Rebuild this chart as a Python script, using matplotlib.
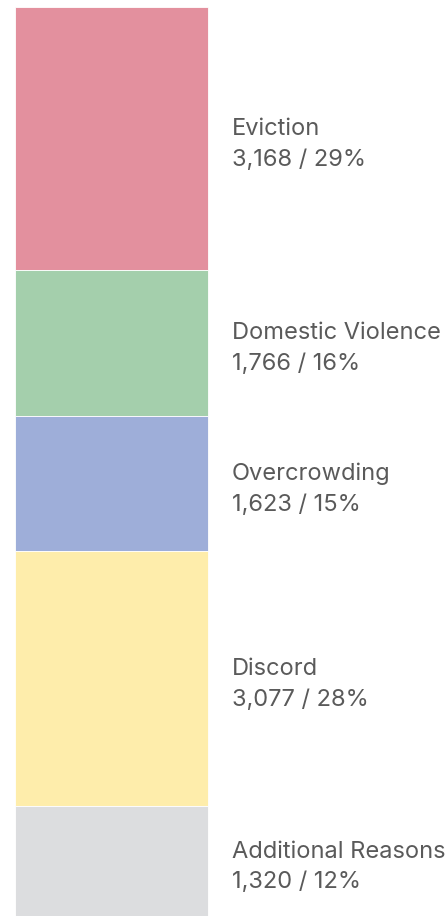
import matplotlib
matplotlib.use("Agg")
import matplotlib.pyplot as plt

categories = ["Eviction", "Domestic Violence", "Overcrowding", "Discord", "Additional Reasons"]
values = [3168, 1766, 1623, 3077, 1320]
percents = [29, 16, 15, 28, 12]
colors = ["#E3909E", "#A4CFAC", "#9EAED9", "#FEEDAB", "#DCDDDF"]

plt.rcParams['font.family'] = ['Inter', 'DejaVu Sans']

W, H = 448, 916
fig = plt.figure(figsize=(W / 100, H / 100), dpi=100)
ax = fig.add_axes([0, 0, 1, 1])
total = sum(values)
top_px = 7
ax.set_xlim(0, W)
ax.set_ylim(total, -top_px / (H - top_px) * total)
ax.axis("off")

bottom = 0
for cat, v, p, c in zip(categories, values, percents, colors):
    ax.bar(111.5, v, width=193, bottom=bottom, color=c, edgecolor="white", linewidth=0.6)
    mid = bottom + v / 2 + total * 0.0063
    ax.text(232, mid, f"{cat}\n{v:,} / {p}%", ha="left", va="center",
            fontsize=17, color="#5a5a5a", linespacing=1.52, clip_on=True)
    bottom += v

fig.savefig("out.png", dpi=100)
